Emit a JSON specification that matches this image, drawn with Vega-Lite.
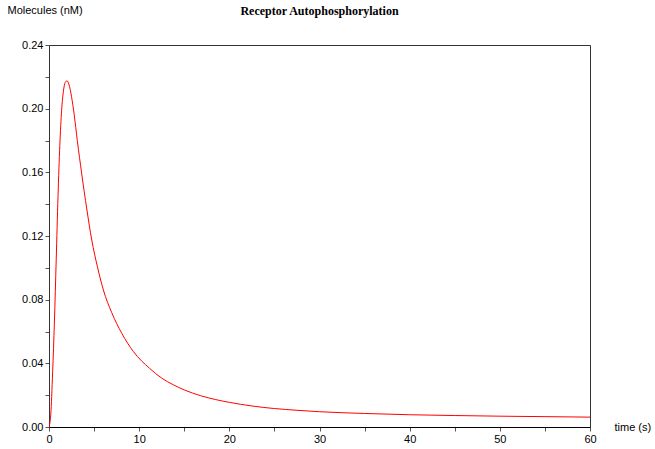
{
  "$schema": "https://vega.github.io/schema/vega-lite/v6.json",
  "width": 541,
  "height": 382,
  "autosize": {"type": "none"},
  "padding": {"left": 49, "top": 45, "right": 65, "bottom": 22},
  "background": "white",
  "config": {
    "view": {"stroke": "#333", "strokeWidth": 1},
    "axis": {"grid": false}
  },
  "title": {
    "text": "Receptor Autophosphorylation",
    "font": "Liberation Serif",
    "fontSize": 12,
    "fontWeight": "bold",
    "color": "#000",
    "anchor": "middle",
    "offset": 0,
    "dy": 14
  },
  "data": {
    "values": [
      {"t": 0, "v": 0},
      {"t": 0.2, "v": 0.008},
      {"t": 0.4, "v": 0.034},
      {"t": 0.6, "v": 0.066},
      {"t": 0.8, "v": 0.105},
      {"t": 1.0, "v": 0.145},
      {"t": 1.2, "v": 0.177},
      {"t": 1.4, "v": 0.199},
      {"t": 1.6, "v": 0.211},
      {"t": 1.8, "v": 0.2165},
      {"t": 2.0, "v": 0.2175},
      {"t": 2.2, "v": 0.2155},
      {"t": 2.5, "v": 0.2075},
      {"t": 2.8, "v": 0.196},
      {"t": 3.14, "v": 0.180},
      {"t": 3.63, "v": 0.159},
      {"t": 4.19, "v": 0.137},
      {"t": 4.74, "v": 0.1175},
      {"t": 5.37, "v": 0.1007},
      {"t": 6.03, "v": 0.0861},
      {"t": 6.96, "v": 0.0718},
      {"t": 8.07, "v": 0.0589},
      {"t": 9.37, "v": 0.0473},
      {"t": 11.15, "v": 0.0369},
      {"t": 12.5, "v": 0.0307},
      {"t": 13.8, "v": 0.0265},
      {"t": 15, "v": 0.0233},
      {"t": 16.8, "v": 0.0197},
      {"t": 18.5, "v": 0.0172},
      {"t": 20, "v": 0.0155},
      {"t": 22.5, "v": 0.0132},
      {"t": 25, "v": 0.0116},
      {"t": 27.5, "v": 0.0105},
      {"t": 30, "v": 0.0096},
      {"t": 35, "v": 0.0085},
      {"t": 40, "v": 0.0077},
      {"t": 45, "v": 0.0072},
      {"t": 50, "v": 0.0068},
      {"t": 55, "v": 0.0065},
      {"t": 60, "v": 0.0062}
    ]
  },
  "mark": {"type": "line", "color": "#ff0000", "strokeWidth": 1, "interpolate": "monotone", "clip": true},
  "encoding": {
    "x": {
      "field": "t",
      "type": "quantitative",
      "scale": {"domain": [0, 60], "nice": false, "zero": false},
      "axis": {
        "values": [0, 5, 10, 15, 20, 25, 30, 35, 40, 45, 50, 55, 60],
        "labelExpr": "datum.value % 10 == 0 ? datum.label : ''",
        "format": "d",
        "title": "time (s)",
        "titleX": 565,
        "titleY": 0,
        "titleAlign": "left",
        "titleBaseline": "middle",
        "titleFont": "Liberation Sans",
        "titleFontSize": 11,
        "titleFontWeight": "normal",
        "titleColor": "#000",
        "labelFont": "Liberation Sans",
        "labelFontSize": 11,
        "labelColor": "#000",
        "labelPadding": 2,
        "labelFlush": false,
        "tickSize": 4,
        "tickColor": "#555",
        "domainColor": "#000",
        "labelOverlap": false
      }
    },
    "y": {
      "field": "v",
      "type": "quantitative",
      "scale": {"domain": [0, 0.24], "nice": false, "zero": false},
      "axis": {
        "values": [0, 0.02, 0.04, 0.06, 0.08, 0.1, 0.12, 0.14, 0.16, 0.18, 0.2, 0.22, 0.24],
        "labelExpr": "round(datum.value * 100) % 4 == 0 ? datum.label : ''",
        "format": ".2f",
        "title": "Molecules (nM)",
        "titleAngle": 0,
        "titleX": -42,
        "titleY": -32,
        "titleAlign": "left",
        "titleBaseline": "alphabetic",
        "titleFont": "Liberation Sans",
        "titleFontSize": 11,
        "titleFontWeight": "normal",
        "titleColor": "#000",
        "labelFont": "Liberation Sans",
        "labelFontSize": 11,
        "labelColor": "#000",
        "labelPadding": 2,
        "labelFlush": false,
        "tickSize": 4,
        "tickColor": "#555",
        "domainColor": "#333",
        "labelOverlap": false
      }
    }
  }
}
